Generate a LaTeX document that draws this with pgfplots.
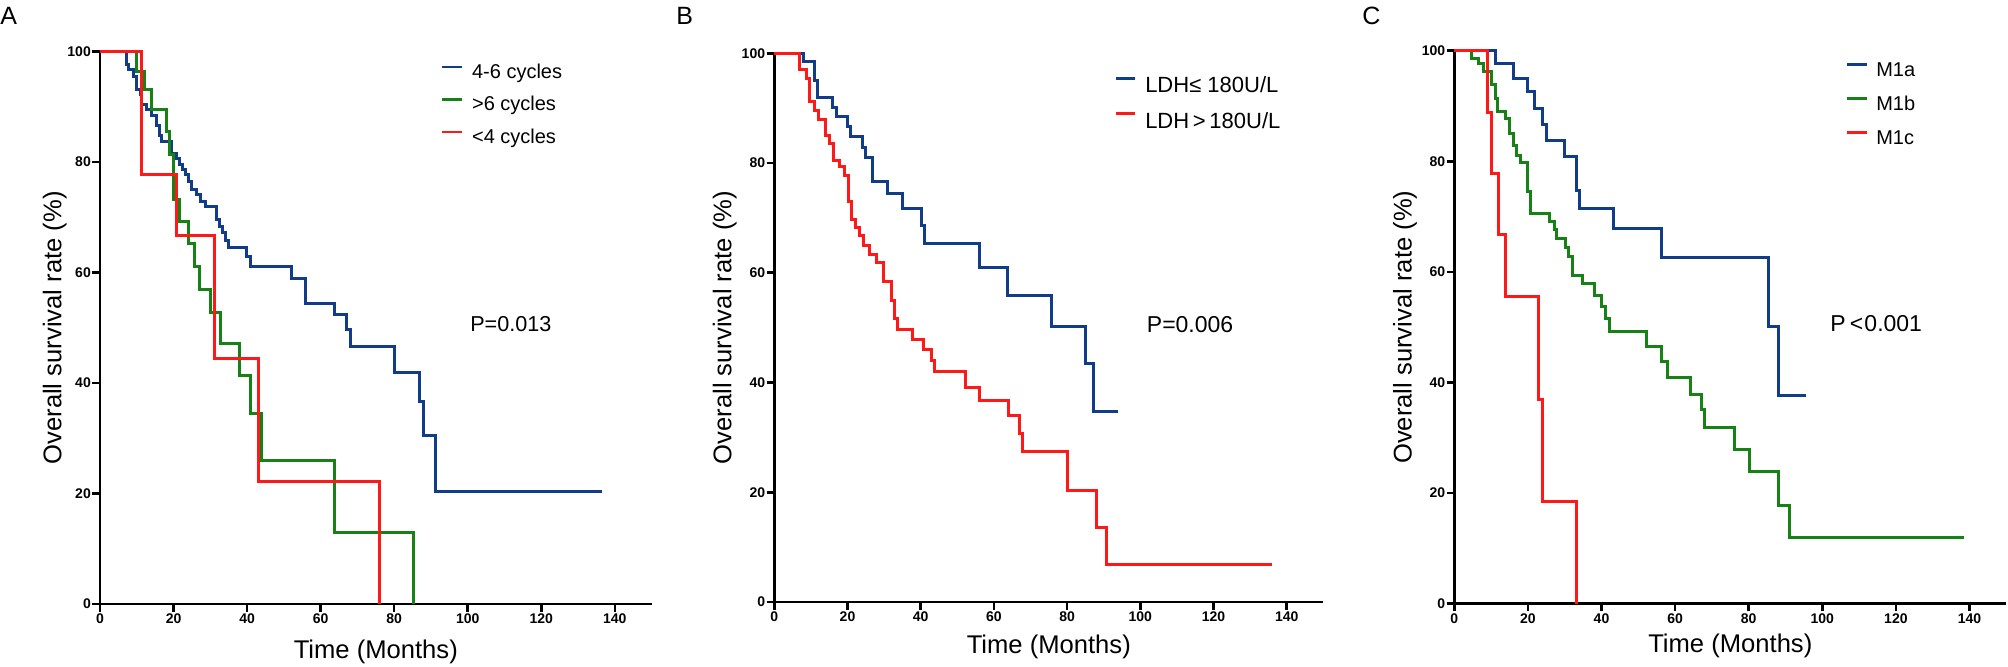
\documentclass[border=0pt]{standalone}
\usepackage{fontspec}
\setmainfont{Liberation Sans}
\usepackage{pgfplots}
\pgfplotsset{compat=1.18}
\definecolor{kmblue}{RGB}{16,60,138}
\definecolor{kmgreen}{RGB}{22,130,22}
\definecolor{kmred}{RGB}{255,24,24}
\pgfplotsset{
  kmaxis/.style={
    scale only axis, axis lines=left,
    axis line style={-, line width=1.3pt},
    xmin=0, xmax=150, ymin=0, ymax=100,
    xtick={0,20,...,140}, ytick={0,20,...,100},
    tick align=outside, major tick length=3.8pt,
    tick style={black, line width=1.3pt},
    tick label style={font=\bfseries\fontsize{7}{8}\selectfont},
    /pgf/number format/assume math mode=true,
    xticklabel style={inner sep=1pt},
    yticklabel style={inner sep=0.6pt},
    label style={font=\fontsize{12.8}{14}\selectfont},
    xlabel={Time (Months)}, ylabel={Overall survival rate (\%)},
    clip=false,
    legend cell align=left,
    every axis plot/.append style={const plot, line width=1.5pt, mark=none},
  },
}
\begin{document}
\begin{tikzpicture}
\useasboundingbox (0pt,0pt) rectangle (1004pt,333pt);
% ---------------- A ----------------
\begin{axis}[kmaxis, at={(50pt,31pt)}, anchor=south west, width=275.8pt, height=276.15pt,
  xlabel style={at={(axis description cs:0.5,-0.0978)}, anchor=base},
  ylabel style={at={(axis description cs:-0.0702,0.5)}, anchor=base},
  legend image code/.code={\draw[#1, line width=1.4pt] (0pt,3.2pt) -- (10pt,3.2pt);},
  legend style={draw=none, fill=none, at={(axis cs:92.7,97.7)}, anchor=north west,
    font=\fontsize{10}{12}\selectfont, row sep=7.25pt, inner sep=0pt, outer sep=0pt,
    nodes={inner sep=0pt, text height=7pt, text depth=2pt},
    /tikz/every odd column/.append style={column sep=4.2pt}}]
\addplot[kmblue] coordinates {(0,100) (7.1,97.7) (7.8,96.7) (9.1,95.5) (10.0,93.2) (10.9,92.2) (11.3,90.4) (12.7,89.5) (14.1,88.5) (15.4,86.7) (16.1,84.9) (16.8,83.7) (19.5,81.6) (20.7,80.7) (21.6,79.5) (22.5,78.6) (23.2,77.7) (24.0,76.5) (24.9,75.0) (26.3,74.1) (27.2,72.9) (28.8,72.0) (31.7,69.6) (32.6,68.4) (33.4,67.2) (34.0,65.9) (34.9,64.5) (39.9,63.0) (40.8,61.1) (52.1,59.0) (56.0,54.5) (63.9,52.4) (67.1,49.7) (68.0,46.7) (80.2,41.9) (87.0,36.7) (88.1,30.5) (91.1,20.4) (136.4,20.4)};
\addlegendentry{4-6 cycles}
\addplot[kmgreen] coordinates {(0,100) (9.8,96.5) (12.0,93.1) (14.1,89.5) (18.1,85.5) (19.0,81.3) (19.9,73.2) (21.5,69.3) (24.2,65.2) (25.8,61.1) (27.0,56.9) (30.1,52.7) (32.9,47.2) (38.0,41.4) (40.8,34.5) (44.0,25.9) (63.9,12.9) (85.2,0)};
\addlegendentry{>6 cycles}
\addplot[kmred] coordinates {(0,100) (11.2,77.8) (20.9,66.7) (31.1,44.4) (43.0,22.2) (76.0,0)};
\addlegendentry{<4 cycles}
\node[anchor=base west, inner sep=0pt, font=\fontsize{10.8}{12}\selectfont] at (axis cs:100.6,49.3) {P=0.013};
\end{axis}
% ---------------- B ----------------
\begin{axis}[kmaxis, at={(387.15pt,32pt)}, anchor=south west, width=274.5pt, height=274.35pt,
  xlabel style={at={(axis description cs:0.5,-0.094)}, anchor=base},
  ylabel style={at={(axis description cs:-0.0783,0.5)}, anchor=base},
  legend image code/.code={\draw[#1, line width=1.4pt] (0pt,4.6pt) -- (9.2pt,4.6pt);},
  legend style={draw=none, fill=none, at={(axis cs:93.1,95.7)}, anchor=north west,
    font=\fontsize{11}{13}\selectfont, row sep=7pt, inner sep=0pt, outer sep=0pt,
    nodes={inner sep=0pt, text height=8pt, text depth=2.5pt},
    /tikz/every odd column/.append style={column sep=4.5pt}}]
\addplot[kmblue] coordinates {(0,100) (7.9,98.5) (11.1,95.1) (11.8,92.0) (15.9,90.2) (17.0,88.5) (20.0,86.6) (20.9,84.9) (24.1,82.9) (25.0,81.1) (26.9,76.7) (31.0,74.5) (35.0,71.8) (40.1,68.6) (41.0,65.4) (56.0,60.9) (63.8,55.8) (75.8,50.3) (84.9,43.4) (87.2,34.7) (94.0,34.7)};
\addlegendentry{LDH≤ 180U/L}
\addplot[kmred] coordinates {(0,100) (6.8,97.0) (8.7,95.4) (9.7,91.2) (10.9,89.6) (12.0,88.0) (14.1,85.1) (15.2,83.5) (16.1,80.5) (17.9,79.3) (19.3,77.7) (20.2,72.9) (21.1,69.8) (22.2,68.3) (23.2,66.8) (24.3,64.9) (25.9,63.4) (27.9,61.9) (29.9,58.5) (32.0,54.9) (32.9,51.7) (33.6,49.7) (37.8,47.9) (40.7,46.0) (43.0,44.0) (43.9,42.0) (52.3,39.1) (56.0,36.8) (63.9,33.9) (67.1,30.7) (67.8,27.4) (80.1,20.4) (87.9,13.6) (90.8,6.9) (136.1,6.9)};
\addlegendentry{LDH\,>\,180U/L}
\node[anchor=base west, inner sep=0pt, font=\fontsize{11.5}{13}\selectfont] at (axis cs:101.7,49.2) {P=0.006};
\end{axis}
% ---------------- C ----------------
\begin{axis}[kmaxis, at={(727.15pt,31.15pt)}, anchor=south west, width=276pt, height=276.5pt,
  xlabel style={at={(axis description cs:0.5,-0.089)}, anchor=base},
  ylabel style={at={(axis description cs:-0.0775,0.5)}, anchor=base},
  legend image code/.code={\draw[#1, line width=1.4pt] (0pt,3.7pt) -- (10pt,3.7pt);},
  legend style={draw=none, fill=none, at={(axis cs:106.2,97.8)}, anchor=north west,
    font=\fontsize{10}{12}\selectfont, row sep=8pt, inner sep=0pt, outer sep=0pt,
    nodes={inner sep=0pt, text height=7pt, text depth=2pt},
    /tikz/every odd column/.append style={column sep=4.2pt}}]
\addplot[kmblue] coordinates {(0,100) (11.1,97.6) (16.0,94.9) (19.9,92.6) (21.9,89.6) (24.0,86.7) (25.1,83.7) (29.9,80.8) (33.1,74.7) (34.0,71.5) (43.2,67.9) (56.2,62.6) (85.3,50.2) (88.2,37.6) (95.5,37.6)};
\addlegendentry{M1a}
\addplot[kmgreen] coordinates {(0,100) (4.7,98.6) (6.7,97.6) (7.9,96.3) (10.0,93.8) (11.1,91.4) (11.8,89.0) (14.0,87.8) (14.9,85.0) (16.0,82.8) (16.9,81.1) (18.0,79.7) (19.9,74.5) (20.8,70.6) (26.0,69.1) (27.1,67.6) (27.9,66.0) (30.1,64.5) (31.0,62.8) (32.2,59.4) (34.9,57.9) (38.0,55.8) (40.0,53.7) (41.2,51.6) (42.3,49.2) (52.3,46.6) (56.2,43.8) (58.0,40.9) (64.2,37.9) (67.2,35.2) (67.9,31.9) (76.0,27.8) (80.1,23.9) (88.2,17.8) (91.2,11.9) (138.5,11.9)};
\addlegendentry{M1b}
\addplot[kmred] coordinates {(0,100) (9.1,88.9) (10.0,77.8) (12.1,66.7) (14.0,55.6) (23.0,37.0) (24.0,18.5) (33.1,0)};
\addlegendentry{M1c}
\node[anchor=base west, inner sep=0pt, font=\fontsize{11.5}{13}\selectfont] at (axis cs:102.1,49.2) {P\hspace{0.18em}<\hspace{0.05em}0.001};
\end{axis}
% panel letters
\node[anchor=base west, inner sep=0pt, font=\fontsize{12.5}{14}\selectfont] at (0pt,320.5pt) {A};
\node[anchor=base west, inner sep=0pt, font=\fontsize{12.5}{14}\selectfont] at (338pt,320.5pt) {B};
\node[anchor=base west, inner sep=0pt, font=\fontsize{12.5}{14}\selectfont] at (681pt,320.5pt) {C};
\end{tikzpicture}
\end{document}
